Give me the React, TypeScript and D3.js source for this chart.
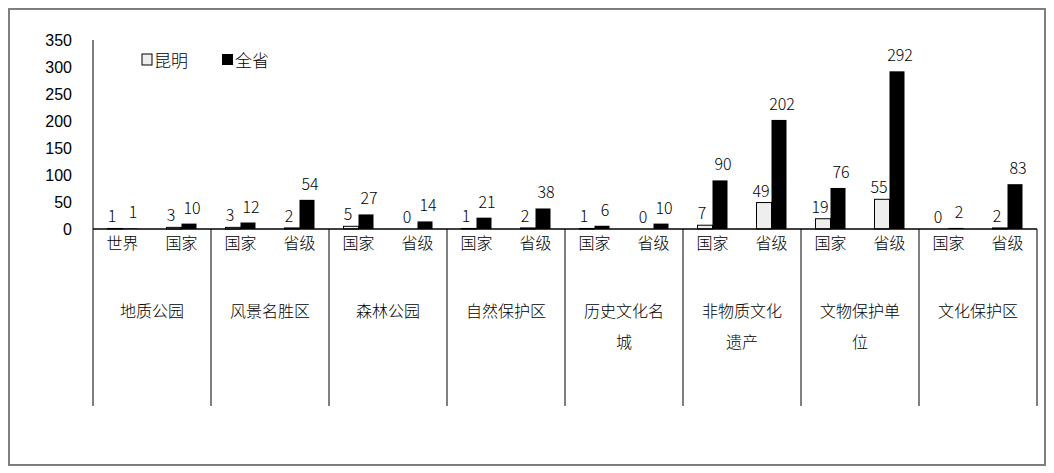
import * as d3 from 'd3';
import React from 'react';

const groups = ['地质公园', '风景名胜区', '森林公园', '自然保护区', '历史文化名城', '非物质文化遗产', '文物保护单位', '文化保护区'];
const groupLines = [['地质公园'], ['风景名胜区'], ['森林公园'], ['自然保护区'], ['历史文化名', '城'], ['非物质文化', '遗产'], ['文物保护单', '位'], ['文化保护区']];
const subs = [['世界', '国家'], ['国家', '省级'], ['国家', '省级'], ['国家', '省级'], ['国家', '省级'], ['国家', '省级'], ['国家', '省级'], ['国家', '省级']];
const kunming = [1, 3, 3, 2, 5, 0, 1, 2, 1, 0, 7, 49, 19, 55, 0, 2];
const quansheng = [1, 10, 12, 54, 27, 14, 21, 38, 6, 10, 90, 202, 76, 292, 2, 83];
const yTicks = [0, 50, 100, 150, 200, 250, 300, 350];

export default function App() {
  const W = 1054, H = 473;
  const x0 = 93, x1 = 1037, base = 229;
  const y = d3.scaleLinear().domain([0, 350]).range([base, 40]);
  const cells = d3.range(16);
  const x = d3.scaleBand<number>().domain(cells).range([x0, x1]);
  const gx = d3.scaleBand<number>().domain(d3.range(groups.length)).range([x0, x1]);
  const bw = 15;
  const font = '"Noto Sans CJK SC", sans-serif';
  return (
    <svg width={W} height={H} style={{ position: 'absolute', left: 0, top: 0 }}>
      <rect x={9} y={9} width={1036} height={456} fill="#fff" stroke="#7f7f7f" strokeWidth={2} />
      <line x1={x0} x2={x0} y1={40} y2={base} stroke="#000" />
      {yTicks.map(t => (
        <text key={t} x={72} y={y(t) + 6} textAnchor="end" fontSize={16} fontFamily="Arial, 'Liberation Sans', sans-serif">{t}</text>
      ))}
      {cells.map(i => {
        const c = x(i)! + x.bandwidth() / 2;
        return (
          <g key={i}>
            <rect x={c - bw} y={y(kunming[i])} width={bw} height={base - y(kunming[i])} fill="#eee" stroke="#000" strokeWidth={1} />
            <rect x={c} y={y(quansheng[i])} width={bw} height={base - y(quansheng[i])} fill="#000" />
            <text x={c - bw / 2 - 3} y={y(kunming[i]) - 6} textAnchor="middle" fontSize={16} fontFamily={font} fontWeight={300}>{kunming[i]}</text>
            <text x={c + bw / 2 + 3} y={y(quansheng[i]) - 10} textAnchor="middle" fontSize={16} fontFamily={font} fontWeight={300}>{quansheng[i]}</text>
            <text x={c} y={249} textAnchor="middle" fontSize={16} fontFamily={font} fontWeight={300}>{subs[Math.floor(i / 2)][i % 2]}</text>
          </g>
        );
      })}
      <line x1={x0} x2={x1} y1={base} y2={base} stroke="#000" strokeWidth={1.5} />
      {groups.map((g, j) => (
        <g key={g}>
          <line x1={gx(j)!} x2={gx(j)!} y1={base} y2={406} stroke="#000" />
          {groupLines[j].map((l, k) => (
            <text key={k} x={gx(j)! + gx.bandwidth() / 2} y={317 + k * 31} textAnchor="middle" fontSize={16} fontFamily={font} fontWeight={300}>{l}</text>
          ))}
        </g>
      ))}
      <line x1={x1} x2={x1} y1={base} y2={406} stroke="#000" />
      <rect x={142} y={54} width={10} height={11} fill="#eee" stroke="#000" />
      <text x={154} y={67} fontSize={17} fontFamily={font} fontWeight={300}>昆明</text>
      <rect x={222} y={54} width={11} height={11} fill="#000" />
      <text x={235} y={67} fontSize={17} fontFamily={font} fontWeight={300}>全省</text>
    </svg>
  );
}
